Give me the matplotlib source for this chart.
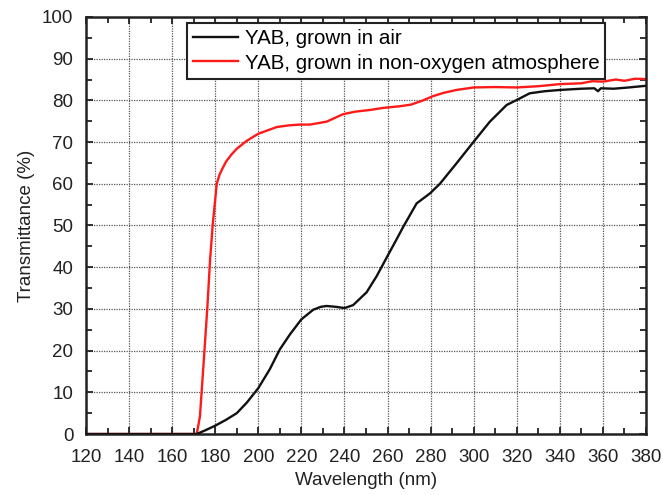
import numpy as np
import matplotlib
matplotlib.use("Agg")
import matplotlib.pyplot as plt
from matplotlib.ticker import MultipleLocator

plt.rcParams['font.family'] = ['Liberation Sans', 'DejaVu Sans']

##Data
#YAB grown in air (black)
wl_air = [120, 150, 171.4, 175, 180, 185, 190, 194.6, 200, 205.4, 210, 214.7, 220, 225.5,
          229, 231.7, 236, 240, 244, 250.3, 255, 260, 264, 267.3, 273.5, 279.7, 284.3,
          292, 300, 307.5, 315.3, 320, 326, 333, 340, 350, 356, 357.7, 359, 365, 372, 380]
t_air = [0, 0, 0, 0.8, 2, 3.4, 5, 7.5, 11, 15.6, 20.3, 23.9, 27.5, 29.8,
         30.5, 30.7, 30.5, 30.2, 30.9, 34, 37.9, 42.7, 46.5, 49.7, 55.3, 57.7, 60,
         64.9, 70.1, 74.9, 78.9, 80.1, 81.7, 82.2, 82.5, 82.8, 82.9, 82.2, 82.9, 82.8, 83.1, 83.5]

#YAB grown in non-oxygen atmosphere (red)
wl_nonox = [120, 150, 171.4, 172.9, 174.5, 176.3, 177.6, 178.8, 180.7, 182, 183.5, 185,
            187.5, 190, 194.6, 200, 208.5, 214, 219.3, 224, 231.7, 239.4, 245, 251.8,
            258, 265.8, 271, 276.5, 281, 286, 292, 300, 310, 320, 330, 340, 350, 355,
            360, 366, 370, 375, 380]
t_nonox = [0, 0, 0, 4.2, 16.2, 30, 41.7, 50, 60, 62.2, 63.8, 65.3,
           67, 68.4, 70.3, 72, 73.6, 74, 74.2, 74.2, 74.9, 76.7, 77.3, 77.7,
           78.2, 78.6, 79, 80, 81, 81.8, 82.5, 83.1, 83.2, 83.1, 83.4, 83.9, 84.1,
           84.6, 84.5, 85, 84.7, 85.2, 85.1]

labels = ['YAB, grown in air', 'YAB, grown in non-oxygen atmosphere']

##Plot
fig = plt.figure(figsize=(6.63, 4.95), dpi=100)
ax = fig.add_axes([0.1297, 0.1232, 0.8447, 0.8425])

ax.plot(wl_air, t_air, color='#111111', lw=1.7, zorder=3, label=labels[0])
ax.plot(wl_nonox, t_nonox, color='#ff1a1a', lw=1.7, zorder=2, label=labels[1])

ax.set_xlim(120, 380)
ax.set_ylim(0, 100)
ax.xaxis.set_major_locator(MultipleLocator(20))
ax.xaxis.set_minor_locator(MultipleLocator(10))
ax.yaxis.set_major_locator(MultipleLocator(10))
ax.yaxis.set_minor_locator(MultipleLocator(5))
ax.tick_params(which='both', direction='in', top=True, right=True, colors='#222222',
               labelsize=13.5, width=1.3)
ax.tick_params(which='major', length=5)
ax.tick_params(which='minor', length=4)
ax.tick_params(axis='x', which='major', pad=11)
ax.tick_params(axis='y', which='major', pad=9)
ax.grid(which='major', linestyle=(0, (1, 1)), color='#555555', lw=0.9)
for s in ax.spines.values():
    s.set_linewidth(1.8)
    s.set_color('#222222')

ax.set_xlabel('Wavelength (nm)', fontsize=13.5, color='#222222', labelpad=4)
ax.set_ylabel('Transmittance (%)', fontsize=13.5, color='#222222', labelpad=5)

leg = ax.legend(loc='upper left', bbox_to_anchor=(0.1804, 0.9865), fontsize=14.8,
                frameon=True, fancybox=False, edgecolor='#222222', framealpha=1,
                handlelength=2.2, handletextpad=0.3, borderpad=0.3,
                labelspacing=0.28, borderaxespad=0)
leg.get_frame().set_linewidth(1.5)

plt.savefig('out.png', dpi=100)
